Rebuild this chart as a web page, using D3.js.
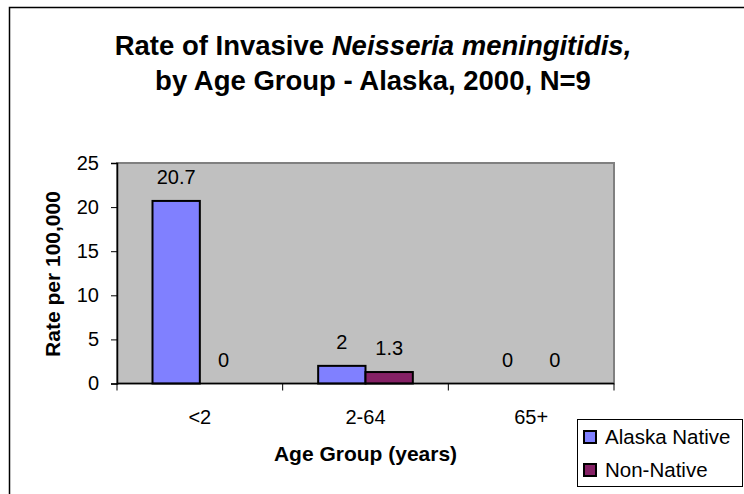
<!DOCTYPE html>
<html lang="en">
<head>
<meta charset="utf-8" />
<script src="https://cdn.jsdelivr.net/npm/d3@7"></script>
<style>
  body { margin: 0; background: #fff; }
  svg { font-family: 'Liberation Sans', Arial, sans-serif; display: block; }
</style>
</head>
<body>
<div id="chart"></div>
<script>
// data
var groups = ["<2", "2-64", "65+"];
var seriesNames = ["Alaska Native", "Non-Native"];
var nativeRates = [20.7, 2, 0];
var nonNativeRates = [0, 1.3, 0];
var yTicks = [0, 5, 10, 15, 20, 25];
var colors = ["#8080ff", "#852165"];

var width = 744, height = 494;
var plot = { left: 117, right: 614, top: 163, bottom: 383.5 };

var svg = d3.select('#chart')
  .append('svg')
  .attr('width', width)
  .attr('height', height);

// outer frame (runs off the right/bottom edge)
svg.append('rect')
  .attr('x', 9.5).attr('y', 7.5)
  .attr('width', 800).attr('height', 600)
  .attr('fill', 'none')
  .attr('stroke', '#000')
  .attr('stroke-width', 1.5);

// title
var title = svg.append('text')
  .attr('text-anchor', 'middle')
  .style('font-size', '27.5px')
  .style('font-weight', 'bold');
var l1 = title.append('tspan').attr('x', 373).attr('y', 55);
l1.append('tspan').text('Rate of Invasive ');
l1.append('tspan').style('font-style', 'italic').text('Neisseria meningitidis,');
title.append('tspan').attr('x', 373).attr('y', 90).text('by Age Group - Alaska, 2000, N=9');

var x0 = d3.scaleBand()
  .domain(groups)
  .range([plot.left, plot.right]);

var x1 = d3.scaleBand()
  .domain(seriesNames)
  .range([0, x0.bandwidth()])
  .paddingOuter(0.75);

var y = d3.scaleLinear()
  .domain([0, 25])
  .range([plot.bottom, plot.top]);

// plot area
svg.append('rect')
  .attr('x', plot.left).attr('y', plot.top)
  .attr('width', plot.right - plot.left)
  .attr('height', plot.bottom - plot.top)
  .attr('fill', '#c0c0c0')
  .attr('stroke', '#808080')
  .attr('stroke-width', 2);

// bars
var table = groups.map(function(g, i) {
  return { group: g, values: [nativeRates[i], nonNativeRates[i]] };
});

var gGroup = svg.selectAll('.grp')
  .data(table)
  .enter().append('g')
  .attr('class', 'grp')
  .attr('transform', function(d) { return 'translate(' + x0(d.group) + ',0)'; });

gGroup.selectAll('rect')
  .data(function(d) { return d.values.map(function(v, j) { return { s: seriesNames[j], v: v, j: j }; }); })
  .enter().append('rect')
  .filter(function(d) { return d.v > 0; })
  .attr('x', function(d) { return x1(d.s); })
  .attr('y', function(d) { return y(d.v); })
  .attr('width', x1.bandwidth())
  .attr('height', function(d) { return y(0) - y(d.v); })
  .attr('fill', function(d) { return colors[d.j]; })
  .attr('stroke', '#000')
  .attr('stroke-width', 2);

gGroup.selectAll('text.lbl')
  .data(function(d) { return d.values.map(function(v, j) { return { s: seriesNames[j], v: v }; }); })
  .enter().append('text')
  .attr('class', 'lbl')
  .attr('x', function(d) { return x1(d.s) + x1.bandwidth() / 2; })
  .attr('y', function(d) { return y(d.v) - 17; })
  .attr('text-anchor', 'middle')
  .style('font-size', '20px')
  .text(function(d) { return d.v; });

// y axis
var yAxis = svg.append('g')
  .attr('transform', 'translate(' + plot.left + ',0)')
  .call(d3.axisLeft(y).tickValues(yTicks).tickSize(6).tickPadding(12));
yAxis.select('.domain').attr('stroke', '#000').attr('stroke-width', 1.5);
yAxis.selectAll('.tick text').style('font-size', '20px').style('font-family', 'Liberation Sans, Arial, sans-serif').attr('fill', '#000');

// x axis: ticks at category boundaries
var xAxis = svg.append('g')
  .attr('transform', 'translate(0,' + plot.bottom + ')');
xAxis.append('line')
  .attr('x1', plot.left).attr('x2', plot.right)
  .attr('stroke', '#000').attr('stroke-width', 1.5);
var bounds = groups.map(function(g) { return x0(g); }).concat([plot.right]);
xAxis.selectAll('.tk')
  .data(bounds)
  .enter().append('line')
  .attr('x1', function(d) { return d; }).attr('x2', function(d) { return d; })
  .attr('y1', 0).attr('y2', 7)
  .attr('stroke', '#000');
xAxis.selectAll('.xl')
  .data(groups)
  .enter().append('text')
  .attr('x', function(d) { return x0(d) + x0.bandwidth() / 2; })
  .attr('y', 40)
  .attr('text-anchor', 'middle')
  .style('font-size', '20px')
  .text(function(d) { return d; });

// axis titles
svg.append('text')
  .attr('x', (plot.left + plot.right) / 2)
  .attr('y', 461)
  .attr('text-anchor', 'middle')
  .style('font-size', '21px')
  .style('font-weight', 'bold')
  .text('Age Group (years)');

svg.append('text')
  .attr('transform', 'translate(60,274) rotate(-90)')
  .attr('text-anchor', 'middle')
  .style('font-size', '21px')
  .style('font-weight', 'bold')
  .text('Rate per 100,000');

// legend
var legend = svg.append('g').attr('transform', 'translate(577,419)');
legend.append('rect')
  .attr('x', 0.5).attr('y', 0.5)
  .attr('width', 165).attr('height', 67)
  .attr('fill', '#fff')
  .attr('stroke', '#000');
var item = legend.selectAll('.item')
  .data(seriesNames)
  .enter().append('g')
  .attr('transform', function(d, i) { return 'translate(7,' + (18 + i * 33) + ')'; });
item.append('rect')
  .attr('x', 0).attr('y', -6)
  .attr('width', 12).attr('height', 12)
  .attr('fill', function(d, i) { return colors[i]; })
  .attr('stroke', '#000')
  .attr('stroke-width', 2);
item.append('text')
  .attr('x', 21).attr('y', 7)
  .style('font-size', '20.5px')
  .text(function(d) { return d; });
</script>
</body>
</html>
